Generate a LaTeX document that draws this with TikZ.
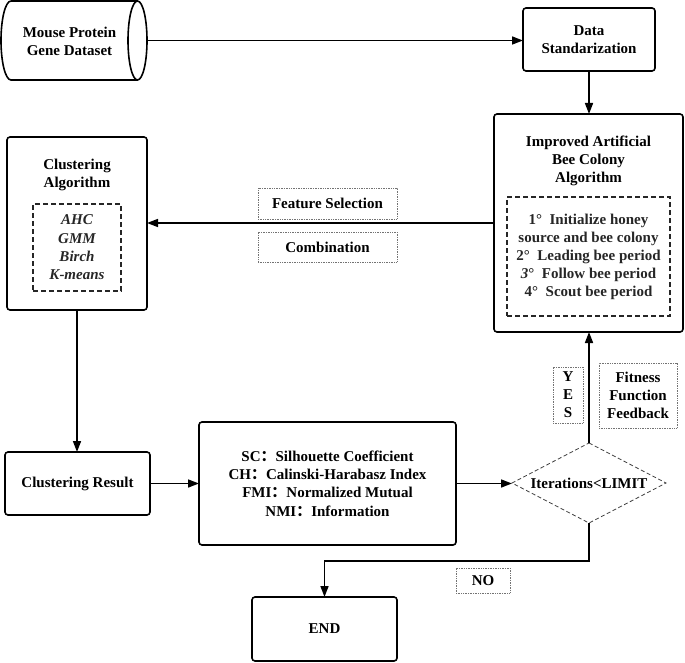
\documentclass[tikz,border=0pt]{standalone}
\usepackage{fontspec}
\setmainfont{Liberation Serif}
\newfontfamily\cjk{Noto Sans CJK SC}
\usetikzlibrary{arrows.meta,calc}
\begin{document}
\begin{tikzpicture}[x=1pt,y=-1pt,
  every node/.style={font=\fontsize{15}{18}\selectfont\bfseries, align=center, inner sep=0pt, outer sep=0pt},
  box/.style={draw, line width=1.6pt, rounded corners=3pt},
  inner/.style={draw, line width=1.6pt, dash pattern=on 5pt off 3pt, color=black!85},
  lbl/.style={draw=black!55, line width=0.7pt, dash pattern=on 0.8pt off 0.9pt},
  arr/.style={line width=1.6pt, -{Triangle[length=11pt,width=8pt]}},
  ln/.style={line width=1.6pt}
]
\useasboundingbox (0,0) rectangle (685,663);

% cylinder
\node[minimum width=146pt, minimum height=79pt] (db) at (74,40.5) {};
\node (dbt) at (69.5,41) {Mouse Protein\\Gene Dataset};
\draw[ln] (11,1) -- (137.5,1);
\draw[ln] (11,1) arc[start angle=90, end angle=270, x radius=10pt, y radius=39.5pt] -- (137.5,80);
\draw[ln] (137.5,40.5) ellipse[x radius=9.5pt, y radius=39.5pt];

% data standardization
\node[box, minimum width=132pt, minimum height=63pt] (ds) at (589,39.5) {Data\\Standarization};

% IABC
\node[box, minimum width=189pt, minimum height=218pt] (iabc) at (588.5,223) {};
\node (iabct) at (588.5,161) {Improved Artificial\\Bee Colony\\Algorithm};
\node[inner, minimum width=163pt, minimum height=119pt] (iabci) at (588.5,256.5)
  {1\textdegree\ \ Initialize honey\\source and bee colony\\2\textdegree\ \ Leading bee period\\\textit{3}\textdegree\ \ Follow bee period\\4\textdegree\ \ Scout bee period};

% Clustering algorithm
\node[box, minimum width=140pt, minimum height=173pt] (ca) at (77,223.5) {};
\node (cat) at (77,174.5) {Clustering\\Algorithm};
\node[inner, minimum width=88pt, minimum height=87pt, font=\fontsize{15}{18.3}\selectfont\bfseries\itshape] (cai) at (77,247.5) {AHC\\GMM\\Birch\\K-means};

% labels on arrow
\node[lbl, minimum width=139pt, minimum height=31pt] (fs) at (327.5,203.5) {Feature Selection};
\node[lbl, minimum width=139pt, minimum height=30pt] (comb) at (327.5,247) {Combination};

% clustering result
\node[box, minimum width=145pt, minimum height=63pt] (cr) at (77.5,483.5) {Clustering Result};

% metrics
\node[box, minimum width=257pt, minimum height=123pt, font=\fontsize{15}{18.3}\selectfont\bfseries] (met) at (327.5,483.5)
  {SC{\cjk ：}Silhouette Coefficient\\CH{\cjk ：}Calinski-Harabasz Index\\FMI{\cjk ：}Normalized Mutual\\NMI{\cjk ：}Information};

% diamond
\node[minimum width=154pt, minimum height=80pt] (dia) at (589,483) {Iterations<LIMIT};
\draw[line width=0.8pt, dash pattern=on 4pt off 2.5pt, color=black!75]
  (dia.north) -- (dia.east) -- (dia.south) -- (dia.west) -- cycle;

% YES / fitness / NO
\node[lbl, minimum width=30pt, minimum height=56pt] (yes) at (568,395) {Y\\E\\S};
\node[lbl, minimum width=78pt, minimum height=65pt] (fit) at (638,395.5) {Fitness\\Function\\Feedback};
\node[lbl, minimum width=54pt, minimum height=25pt] (no) at (483,580.5) {NO};

% END
\node[box, minimum width=145pt, minimum height=64pt] (endn) at (324.5,629) {END};

% connectors
\draw[arr] (db.east) -- (db.east -| ds.west);
\draw[arr] (ds.south) -- (ds.south |- iabc.north);
\draw[arr] (iabc.west) -- (iabc.west -| ca.east);
\draw[arr] (ca.south) -- (ca.south |- cr.north);
\draw[arr] (cr.east) -- (cr.east -| met.west);
\draw[arr] (met.east) -- (met.east -| dia.west);
\draw[arr] (dia.north) -- (dia.north |- iabc.south);
\draw[arr] (dia.south) -- ++(0,38) -| (endn.north);
\end{tikzpicture}
\end{document}
